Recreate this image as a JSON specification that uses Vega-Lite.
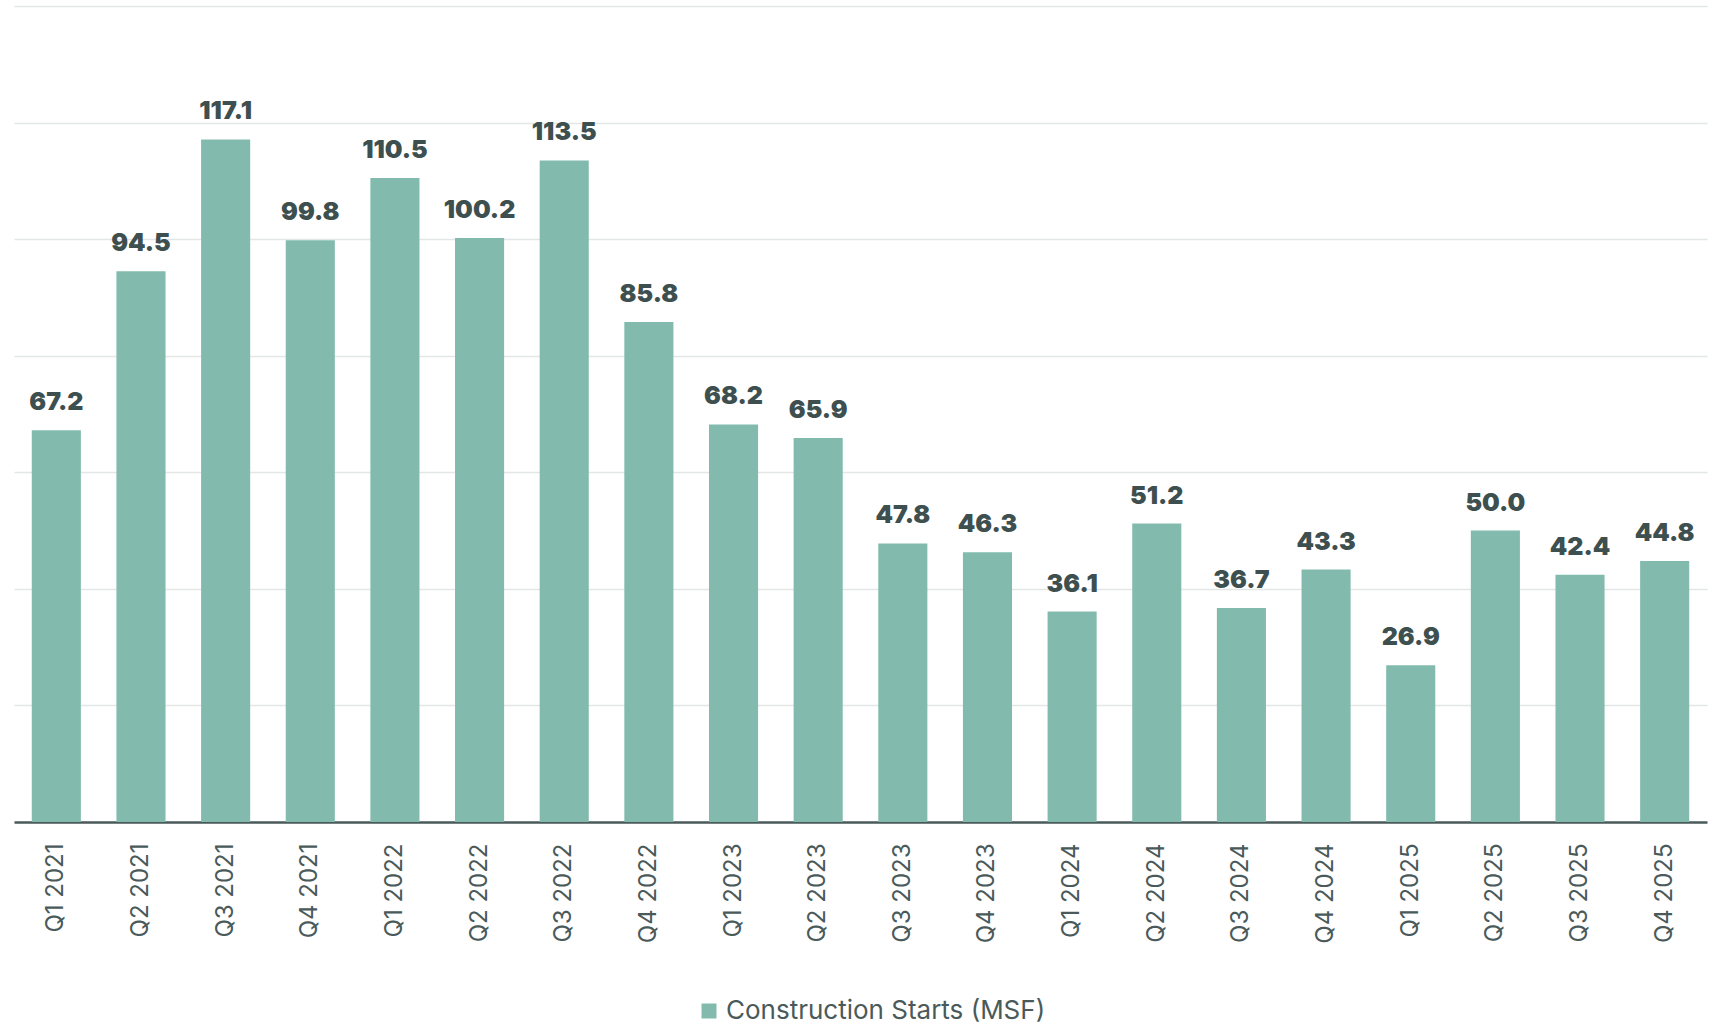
{
  "$schema": "https://vega.github.io/schema/vega-lite/v6.json",
  "autosize": {"type": "none"},
  "width": 1693,
  "height": 816,
  "padding": {"left": 14, "top": 6, "right": 15, "bottom": 202},
  "background": "#ffffff",
  "config": {"view": {"stroke": null}},
  "data": {
    "values": [
      {"quarter": "Q1 2021", "starts": 67.2, "series": "Construction Starts (MSF)"},
      {"quarter": "Q2 2021", "starts": 94.5, "series": "Construction Starts (MSF)"},
      {"quarter": "Q3 2021", "starts": 117.1, "series": "Construction Starts (MSF)"},
      {"quarter": "Q4 2021", "starts": 99.8, "series": "Construction Starts (MSF)"},
      {"quarter": "Q1 2022", "starts": 110.5, "series": "Construction Starts (MSF)"},
      {"quarter": "Q2 2022", "starts": 100.2, "series": "Construction Starts (MSF)"},
      {"quarter": "Q3 2022", "starts": 113.5, "series": "Construction Starts (MSF)"},
      {"quarter": "Q4 2022", "starts": 85.8, "series": "Construction Starts (MSF)"},
      {"quarter": "Q1 2023", "starts": 68.2, "series": "Construction Starts (MSF)"},
      {"quarter": "Q2 2023", "starts": 65.9, "series": "Construction Starts (MSF)"},
      {"quarter": "Q3 2023", "starts": 47.8, "series": "Construction Starts (MSF)"},
      {"quarter": "Q4 2023", "starts": 46.3, "series": "Construction Starts (MSF)"},
      {"quarter": "Q1 2024", "starts": 36.1, "series": "Construction Starts (MSF)"},
      {"quarter": "Q2 2024", "starts": 51.2, "series": "Construction Starts (MSF)"},
      {"quarter": "Q3 2024", "starts": 36.7, "series": "Construction Starts (MSF)"},
      {"quarter": "Q4 2024", "starts": 43.3, "series": "Construction Starts (MSF)"},
      {"quarter": "Q1 2025", "starts": 26.9, "series": "Construction Starts (MSF)"},
      {"quarter": "Q2 2025", "starts": 50.0, "series": "Construction Starts (MSF)"},
      {"quarter": "Q3 2025", "starts": 42.4, "series": "Construction Starts (MSF)"},
      {"quarter": "Q4 2025", "starts": 44.8, "series": "Construction Starts (MSF)"}
    ]
  },
  "encoding": {
    "x": {
      "field": "quarter",
      "type": "ordinal",
      "sort": null,
      "title": null,
      "scale": {"paddingInner": 0.42, "paddingOuter": 0.21},
      "axis": {
        "labelAngle": -90,
        "labelAlign": "right",
        "labelBaseline": "middle",
        "labelFont": "Inter",
        "labelFontSize": 24,
        "labelColor": "#4a5a5a",
        "labelPadding": 21,
        "ticks": false,
        "domainColor": "#4a5959",
        "domainWidth": 2.5,
        "grid": false
      }
    },
    "y": {
      "field": "starts",
      "type": "quantitative",
      "title": null,
      "scale": {"domain": [0, 140], "nice": false},
      "axis": {
        "values": [20, 40, 60, 80, 100, 120, 140],
        "labels": false,
        "ticks": false,
        "domain": false,
        "grid": true,
        "gridColor": "#e2e6e6",
        "gridWidth": 1.5
      }
    }
  },
  "layer": [
    {
      "mark": {"type": "bar", "color": "#82bbad"},
      "encoding": {
        "color": {
          "field": "series",
          "type": "nominal",
          "scale": {"range": ["#82bbad"]},
          "legend": {
            "title": null,
            "orient": "none",
            "legendX": 682,
            "legendY": 992,
            "symbolType": "square",
            "symbolSize": 225,
            "symbolStrokeWidth": 0,
            "symbolOpacity": 1,
            "labelFont": "Inter",
            "labelFontSize": 26,
            "labelColor": "#4a5a5a",
            "labelOffset": 4,
            "labelLimit": 0
          }
        }
      }
    },
    {
      "mark": {
        "type": "text",
        "baseline": "bottom",
        "dy": -15,
        "font": "Inter",
        "fontWeight": 900,
        "fontSize": 25,
        "color": "#3e4f4f"
      },
      "encoding": {
        "text": {"field": "starts", "type": "quantitative", "format": ".1f"}
      }
    }
  ]
}
